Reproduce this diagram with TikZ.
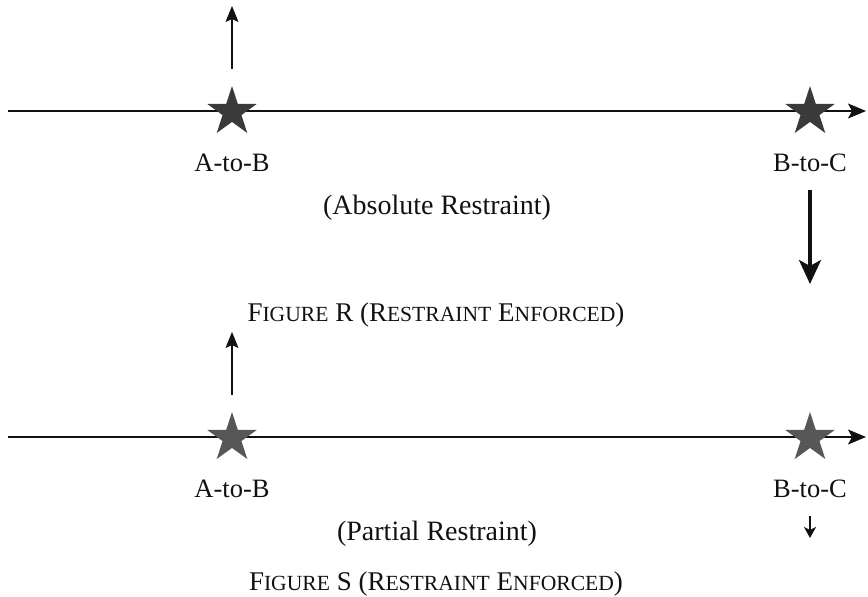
\documentclass[tikz,border=0pt]{standalone}
\usepackage{fontspec}
\setmainfont{Liberation Serif}
\usetikzlibrary{arrows.meta,shapes.geometric}
\definecolor{starA}{HTML}{3A3A3A}
\definecolor{starB}{HTML}{575757}
\definecolor{ink}{HTML}{111111}
\newcommand\myfakesc[1]{{\fontsize{21.6}{26}\selectfont #1}}
\tikzset{
  axisline/.style={line width=1.3pt, draw=ink, -{Stealth[length=18pt,width=15pt,inset=4pt]}},
  uparrow/.style={line width=1.3pt, draw=ink, -{Stealth[length=16pt,width=13pt,inset=3pt]}},
  bigarrow/.style={line width=3.5pt, draw=ink, -{Stealth[length=24pt,width=22pt,inset=6pt]}},
  smallarrow/.style={line width=1.3pt, draw=ink, -{Stealth[length=11pt,width=12pt,inset=3pt]}},
  starnode/.style={star, star points=5, star point ratio=2.618, minimum size=52pt, inner sep=0pt, draw=none},
  lbl/.style={inner sep=0pt, anchor=base, text=ink, font=\fontsize{26.5}{30}\selectfont},
  paren/.style={inner sep=0pt, anchor=base, text=ink, font=\fontsize{28}{32}\selectfont},
  captext/.style={inner sep=0pt, anchor=base, text=ink, font=\fontsize{27}{31}\selectfont},
}
\begin{document}
\begin{tikzpicture}[x=1pt, y=-1pt]
\useasboundingbox (0,0) rectangle (868,597);
% ---- Figure R ----
\coordinate (L1) at (8,111);
\coordinate (R1) at (866,111);
\coordinate (U1a) at (232,69);
\coordinate (U1b) at (232,6);
\coordinate (D1a) at (810,190);
\coordinate (D1b) at (810,284);
\draw[axisline] (L1) -- (R1);
\node[starnode, fill=starA] (sA1) at (232,112) {};
\node[starnode, fill=starA] (sB1) at (810,112) {};
\draw[uparrow] (U1a) -- (U1b);
\node[lbl] (tA1) at (232,171) {A-to-B};
\node[lbl] (tB1) at (810,171) {B-to-C};
\node[paren] (abs) at (437,214) {(Absolute Restraint)};
\draw[bigarrow] (D1a) -- (D1b);
\node[captext] (figR) at (436,321) {F\myfakesc{IGURE} R (R\myfakesc{ESTRAINT} E\myfakesc{NFORCED})};
% ---- Figure S ----
\coordinate (L2) at (8,437);
\coordinate (R2) at (866,437);
\coordinate (U2a) at (232,395);
\coordinate (U2b) at (232,332);
\coordinate (D2a) at (810,516);
\coordinate (D2b) at (810,538);
\draw[axisline] (L2) -- (R2);
\node[starnode, fill=starB] (sA2) at (232,438) {};
\node[starnode, fill=starB] (sB2) at (810,438) {};
\draw[uparrow] (U2a) -- (U2b);
\node[lbl] (tA2) at (232,497) {A-to-B};
\node[lbl] (tB2) at (810,497) {B-to-C};
\node[paren] (par) at (437,540) {(Partial Restraint)};
\draw[smallarrow] (D2a) -- (D2b);
\node[captext] (figS) at (436,590) {F\myfakesc{IGURE} S (R\myfakesc{ESTRAINT} E\myfakesc{NFORCED})};
\end{tikzpicture}
\end{document}
